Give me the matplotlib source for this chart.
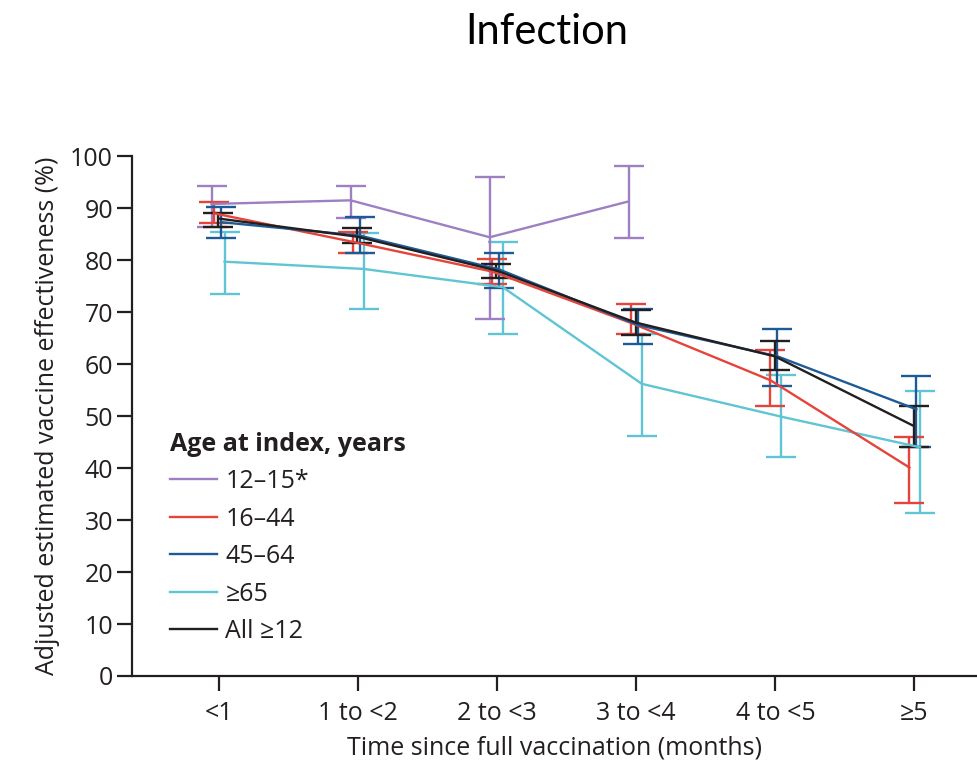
import matplotlib.pyplot as plt
import numpy as np

plt.rcParams['font.family'] = ['Open Sans', 'DejaVu Sans']

periods = ['<1', '1 to <2', '2 to <3', '3 to <4', '4 to <5', '\u22655']
groups = ['12\u201315*', '16\u201344', '45\u201364', '\u226565', 'All \u226512']

# point estimate, lower CI, upper CI per period (nan = not reported)
ve_12_15 = [90.8, 91.5, 84.4, 91.3, np.nan, np.nan]
lo_12_15 = [86.4, 88.1, 68.7, 84.2, np.nan, np.nan]
hi_12_15 = [94.2, 94.2, 96.0, 98.1, np.nan, np.nan]

ve_16_44 = [89.0, 83.5, 77.8, 67.9, 56.9, 40.1]
lo_16_44 = [87.2, 81.3, 75.4, 65.8, 51.9, 33.2]
hi_16_44 = [91.1, 85.5, 80.2, 71.5, 62.7, 46.0]

ve_45_64 = [87.3, 84.7, 78.2, 67.5, 61.5, 51.3]
lo_45_64 = [84.3, 81.3, 74.6, 63.8, 55.8, 44.0]
hi_45_64 = [90.2, 88.2, 81.3, 70.5, 66.7, 57.8]

ve_65 = [79.7, 78.3, 74.8, 56.2, 49.9, 44.0]
lo_65 = [73.5, 70.6, 65.8, 46.2, 42.2, 31.3]
hi_65 = [85.4, 85.3, 83.4, 65.7, 57.9, 54.8]

ve_all = [88.0, 84.5, 78.0, 68.0, 61.5, 48.1]
lo_all = [86.4, 83.3, 76.5, 65.6, 58.8, 44.0]
hi_all = [89.1, 86.2, 79.2, 70.4, 64.5, 51.9]

series = {
    groups[0]: (ve_12_15, lo_12_15, hi_12_15),
    groups[1]: (ve_16_44, lo_16_44, hi_16_44),
    groups[2]: (ve_45_64, lo_45_64, hi_45_64),
    groups[3]: (ve_65, lo_65, hi_65),
    groups[4]: (ve_all, lo_all, hi_all),
}
colors = {groups[0]: '#9c80c2', groups[1]: '#e6433b', groups[2]: '#1d5b97',
          groups[3]: '#5fc5d4', groups[4]: '#231f20'}
shift = {groups[0]: -0.054, groups[1]: -0.036, groups[2]: 0.014,
         groups[3]: 0.04, groups[4]: -0.005}
draw_order = [groups[3], groups[0], groups[1], groups[2], groups[4]]
ink = '#231f20'
fs = 18

fig = plt.figure(figsize=(9.77, 7.73), dpi=100)
ax = fig.add_axes([0.1355, 0.1255, 0.8645, 0.6725])

x = np.arange(len(periods))
for g in draw_order:
    ve, lo, hi = (np.array(a, dtype=float) for a in series[g])
    xs = x + shift[g]
    ax.errorbar(xs, ve, yerr=[ve - lo, hi - ve], color=colors[g], lw=1.7,
                elinewidth=1.7, capsize=11, capthick=1.7, zorder=3)

handles = [plt.Line2D([], [], color=colors[g], lw=1.7) for g in groups]
leg = ax.legend(handles, groups, loc='upper left', bbox_to_anchor=(0.044, 0.47),
                frameon=False, fontsize=fs, title='Age at index, years',
                title_fontproperties={'weight': 'bold', 'size': fs},
                alignment='left', handlelength=1.9, handletextpad=0.33,
                labelspacing=0.5, borderpad=0, borderaxespad=0)
for t in leg.get_texts():
    t.set_color(ink)
leg.get_title().set_color(ink)

ax.set_xlim(-0.623, 5.45)
ax.set_ylim(0, 100)
ax.set_xticks(x)
ax.set_xticklabels(periods)
ax.set_yticks(np.arange(0, 101, 10))
for side in ['top', 'right']:
    ax.spines[side].set_visible(False)
for side in ['left', 'bottom']:
    ax.spines[side].set_linewidth(1.6)
    ax.spines[side].set_color(ink)
ax.tick_params(axis='both', length=11, width=1.6, color=ink,
               labelsize=fs, labelcolor=ink, pad=3)
ax.tick_params(axis='x', pad=7)
ax.set_xlabel('Time since full vaccination (months)', fontsize=fs,
              color=ink, labelpad=7)
ax.set_ylabel('Adjusted estimated vaccine effectiveness (%)', fontsize=fs,
              color=ink, labelpad=7)

fig.text(0.56, 0.958, 'Infection', fontsize=30, ha='center', va='center',
         family=['Lato', 'DejaVu Sans'])

fig.savefig('out.png', dpi=100)
